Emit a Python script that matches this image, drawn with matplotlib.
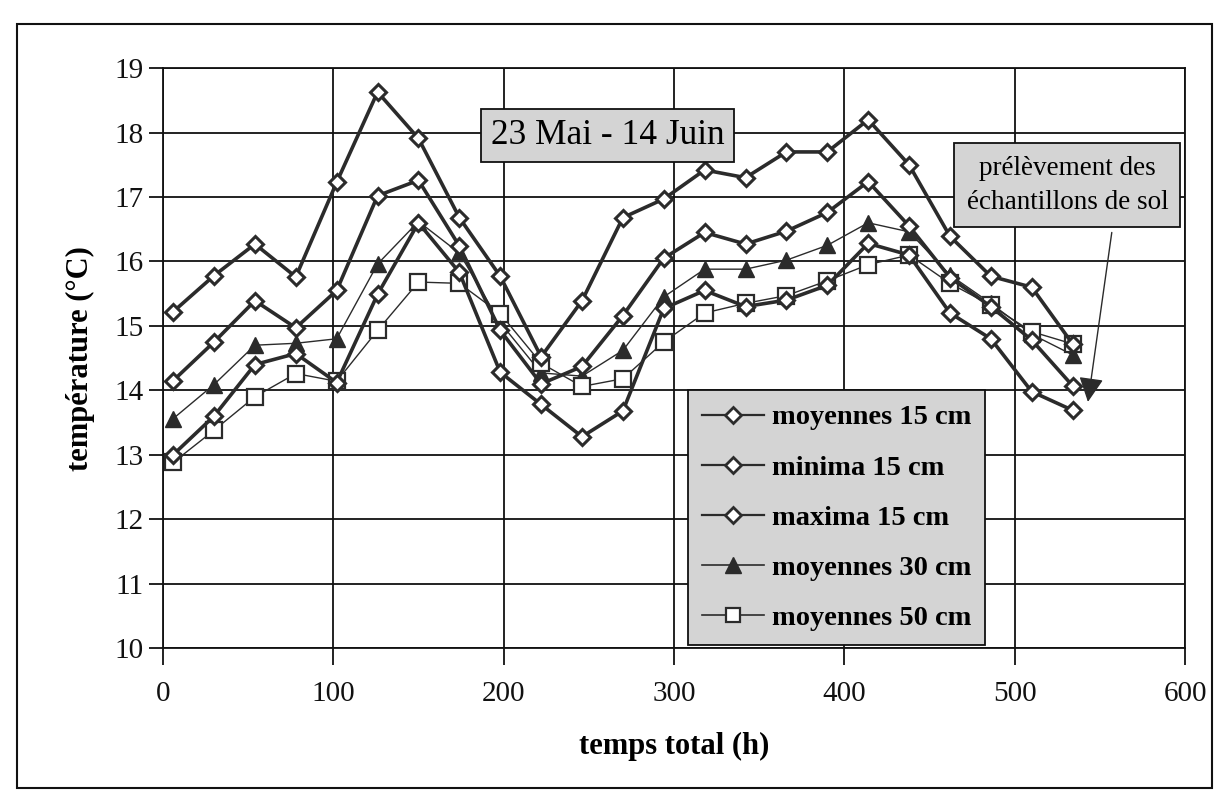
import matplotlib
matplotlib.use("Agg")
import matplotlib.pyplot as plt
from matplotlib.lines import Line2D
from matplotlib.patches import Rectangle

# ---- data ----
temps = [6, 30, 54, 78, 102, 126, 150, 174, 198, 222, 246, 270, 294, 318,
         342, 366, 390, 414, 438, 462, 486, 510, 534]

moyennes_15 = [14.15, 14.75, 15.39, 14.97, 15.55, 17.02, 17.26, 16.24, 14.93, 14.10,
               14.37, 15.16, 16.05, 16.45, 16.27, 16.47, 16.76, 17.24, 16.55, 15.75,
               15.30, 14.78, 14.07]
minima_15 = [13.00, 13.60, 14.40, 14.57, 14.12, 15.49, 16.60, 15.83, 14.28, 13.78,
             13.28, 13.68, 15.27, 15.55, 15.30, 15.40, 15.63, 16.28, 16.10, 15.20,
             14.80, 13.98, 13.69]
maxima_15 = [15.22, 15.78, 16.27, 15.76, 17.23, 18.63, 17.91, 16.68, 15.77, 14.52,
             15.39, 16.68, 16.97, 17.42, 17.30, 17.70, 17.70, 18.20, 17.50, 16.39,
             15.77, 15.60, 14.72]
moyennes_30 = [13.56, 14.09, 14.70, 14.73, 14.80, 15.96, 16.62, 16.13, 15.05, 14.27,
               14.22, 14.62, 15.45, 15.88, 15.88, 16.02, 16.25, 16.60, 16.46, 15.79,
               15.35, 14.87, 14.55]
moyennes_50 = [12.88, 13.38, 13.90, 14.26, 14.14, 14.93, 15.68, 15.66, 15.19, 14.42,
               14.06, 14.18, 14.75, 15.20, 15.35, 15.47, 15.70, 15.95, 16.10, 15.66,
               15.32, 14.91, 14.72]

labels = ["moyennes 15 cm", "minima 15 cm", "maxima 15 cm",
          "moyennes 30 cm", "moyennes 50 cm"]
x_ticks = [0, 100, 200, 300, 400, 500, 600]
y_ticks = [10, 11, 12, 13, 14, 15, 16, 17, 18, 19]
titre = "23 Mai - 14 Juin"
note = "prélèvement des\néchantillons de sol"

# ---- style ----
plt.rcParams['font.family'] = ['Liberation Serif', 'DejaVu Serif']
ink = '#2b2b2b'
shade = '#d4d4d4'

fig = plt.figure(figsize=(12.27, 8.02), dpi=100)
ax = fig.add_axes([0.1328, 0.192, 0.8330, 0.723])

thick = dict(color=ink, lw=2.6, marker='D', ms=8, mfc='white', mec=ink, mew=2.2)
ax.plot(temps, maxima_15, zorder=4, **thick)
ax.plot(temps, moyennes_15, zorder=4, **thick)
ax.plot(temps, minima_15, zorder=4, **thick)
ax.plot(temps, moyennes_30, color=ink, lw=1.0, marker='^', ms=12, mfc=ink,
        mec=ink, zorder=3)
ax.plot(temps, moyennes_50, color=ink, lw=1.0, marker='s', ms=11, mfc='white',
        mec=ink, mew=1.6, zorder=3)

ax.set_xlim(0, 600)
ax.set_ylim(10, 19)
ax.set_xticks(x_ticks)
ax.set_yticks(y_ticks)
ax.grid(True, color='#111111', lw=1.3)
ax.set_axisbelow(True)
for s in ax.spines.values():
    s.set_color('#111111')
    s.set_linewidth(1.3)
ax.tick_params(axis='y', direction='out', length=10, width=1.3, pad=4,
               labelsize=21, colors='#111111')
ax.tick_params(axis='x', direction='out', length=12, width=1.3, pad=12,
               labelsize=21, colors='#111111')

ax.set_xlabel("temps total (h)", fontsize=22, fontweight='bold', labelpad=18)
ax.set_ylabel("température (°C)", fontsize=22, fontweight='bold', labelpad=14)

# legend
handles = [
    Line2D([], [], color=ink, lw=1.6, marker='D', ms=8, mfc='white', mec=ink, mew=2),
    Line2D([], [], color=ink, lw=1.6, marker='D', ms=8, mfc='white', mec=ink, mew=2),
    Line2D([], [], color=ink, lw=1.6, marker='D', ms=8, mfc='white', mec=ink, mew=2),
    Line2D([], [], color=ink, lw=1.2, marker='^', ms=11, mfc=ink, mec=ink),
    Line2D([], [], color=ink, lw=1.2, marker='s', ms=10, mfc='white', mec=ink, mew=1.6),
]
leg = ax.legend(handles, labels, loc='upper left', bbox_to_anchor=(308, 14.0),
                bbox_transform=ax.transData, fancybox=False, framealpha=1,
                facecolor=shade, edgecolor='#111111', handlelength=2.2,
                handletextpad=0.25, labelspacing=0.85, borderpad=0.5,
                borderaxespad=0, prop=dict(size=20.5, weight='bold'))
leg.get_frame().set_linewidth(1.3)
leg.set_zorder(6)

# text boxes
ax.text(261, 17.96, titre, ha='center', va='center', fontsize=25.5, zorder=7,
        bbox=dict(boxstyle='square,pad=0.28', fc=shade, ec='#111111', lw=1.3))
ax.text(531, 17.18, note, ha='center', va='center', fontsize=19.5, zorder=7,
        linespacing=1.5,
        bbox=dict(boxstyle='square,pad=0.45', fc=shade, ec='#111111', lw=1.3))
ax.annotate('', xy=(543, 13.82), xytext=(557, 16.45), zorder=7,
            arrowprops=dict(arrowstyle='-|>', mutation_scale=38, lw=1.0,
                            color=ink, shrinkA=0, shrinkB=0))

# outer frame
fig.patches.append(Rectangle((0.014, 0.018), 0.974, 0.952, transform=fig.transFigure,
                             fill=False, ec='#111111', lw=1.5))

fig.savefig("out.png", dpi=100)
